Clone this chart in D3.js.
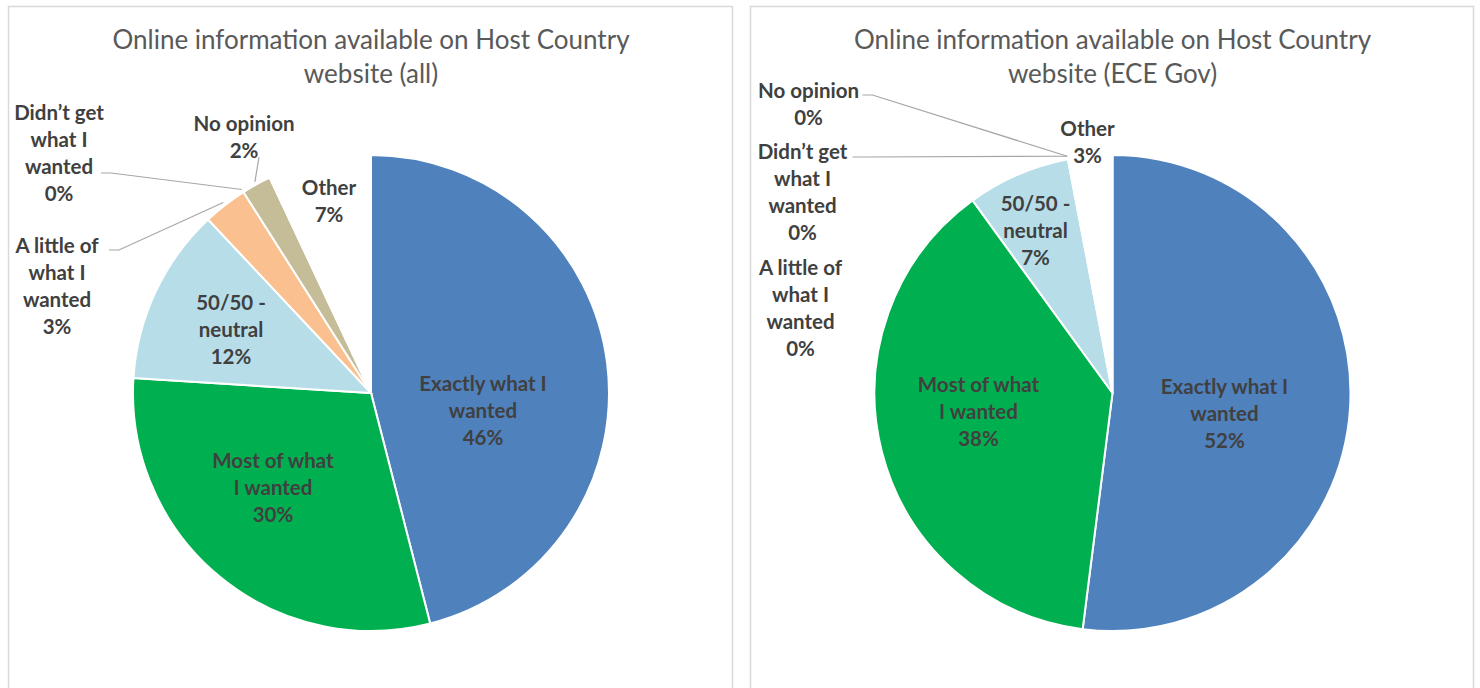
<!DOCTYPE html>
<html>
<head>
<meta charset="utf-8">
<script src="https://cdn.jsdelivr.net/npm/d3@7"></script>
<style>
  body { margin: 0; background: #fff; }
  svg text { font-family: Lato, "Open Sans", sans-serif; }
</style>
</head>
<body>
<div id="chart"></div>
<script>
// Data
var categories = ["Exactly what I wanted", "Most of what I wanted", "50/50 - neutral",
                  "A little of what I wanted", "Didn\u2019t get what I wanted", "No opinion", "Other"];
var labelLines = [["Exactly what I", "wanted"], ["Most of what", "I wanted"], ["50/50  -", "neutral"],
                  ["A little of", "what I", "wanted"], ["Didn\u2019t get", "what I", "wanted"], ["No opinion"], ["Other"]];
var allValues = [46, 30, 12, 3, 0, 2, 7];
var eceValues = [52, 38, 7, 0, 0, 0, 3];
var titlesAll = ["Online information available on Host Country", "website (all)"];
var titlesEce = ["Online information available on Host Country", "website (ECE Gov)"];
var sliceColors = ["#4f81bd", "#00b050", "#b7dee8", "#fac090", "#c0504d", "#c4bd97", "#ffffff"];

// Label placement (offsets from pie centre), like manual label moves in the original
var layoutAll = [
    {dx: 112, dy: 18}, {dx: -98, dy: 95}, {dx: -140, dy: -63},
    {dx: -314, dy: -107, lead: [-262, -143]},
    {dx: -312, dy: -240, lead: [-270, -220]},
    {dx: -127, dy: -256, lead: [-112, -236]},
    {dx: -42, dy: -192}
];
var layoutEce = [
    {dx: 112, dy: 21}, {dx: -134, dy: 19}, {dx: -77, dy: -162},
    {dx: -312, dy: -85},
    {dx: -310, dy: -201, lead: [-260, -236]},
    {dx: -304, dy: -289, lead: [-250, -298]},
    {dx: -25, dy: -251}
];

var W = 1480, H = 688;
var radius = 238;
var lineH = 27;

var svg = d3.select("#chart").append("svg")
    .attr("width", W)
    .attr("height", H);

function DrawPanel(x0, x1, titles, values, layout) {
    var g = svg.append("g");
    // Frame
    g.append("rect")
        .attr("x", x0 + 0.5).attr("y", 6.5)
        .attr("width", x1 - x0).attr("height", H + 10)
        .style("fill", "white")
        .style("stroke", "#d9d9d9")
        .style("stroke-width", 1.5);

    var cx = (x0 + x1) / 2 + 1, cy = 393;

    // Title
    g.selectAll("text.title")
        .data(titles)
        .enter().append("text")
        .attr("class", "title")
        .attr("x", cx)
        .attr("y", function(d, i) { return 49 + i * 34; })
        .style("text-anchor", "middle")
        .style("font-size", "26px")
        .style("fill", "#595959")
        .text(function(d) { return d; });

    var pie = d3.pie().sort(null).value(function(d) { return d; });
    var arcs = pie(values);
    var arc = d3.arc().innerRadius(0).outerRadius(radius);
    var outer = d3.arc().innerRadius(radius + 3).outerRadius(radius + 3);

    var pg = g.append("g").attr("transform", "translate(" + cx + "," + cy + ")");
    pg.selectAll("path")
        .data(arcs.filter(function(d) { return d.value > 0; }))
        .enter().append("path")
        .attr("d", arc)
        .style("fill", function(d) { return sliceColors[d.index]; })
        .style("stroke", "white")
        .style("stroke-width", 2);

    // Leader lines
    arcs.forEach(function(a, i) {
        var L = layout[i];
        if (!L.lead) return;
        var p = outer.centroid(a);
        pg.append("polyline")
            .attr("points", [L.lead, [L.lead[0] + (L.lead[0] < -200 ? 10 : 0), L.lead[1]], p].join(" "))
            .style("fill", "none")
            .style("stroke", "#a6a6a6")
            .style("stroke-width", 1.2);
    });

    // Labels
    arcs.forEach(function(a, i) {
        var L = layout[i];
        var lines = labelLines[i].concat([a.value + "%"]);
        var top = L.dy - (lines.length - 1) * lineH / 2;
        pg.append("text")
            .attr("x", L.dx)
            .attr("y", top)
            .style("text-anchor", "middle")
            .style("font-size", "20.5px")
            .style("font-weight", "bold")
            .style("fill", "#404040")
            .selectAll("tspan")
            .data(lines)
            .enter().append("tspan")
            .attr("x", L.dx)
            .attr("y", function(d, j) { return top + j * lineH; })
            .attr("dy", "0.35em")
            .text(function(d) { return d; });
    });
}

DrawPanel(8, 732, titlesAll, allValues, layoutAll);
DrawPanel(750, 1473, titlesEce, eceValues, layoutEce);
</script>
</body>
</html>
